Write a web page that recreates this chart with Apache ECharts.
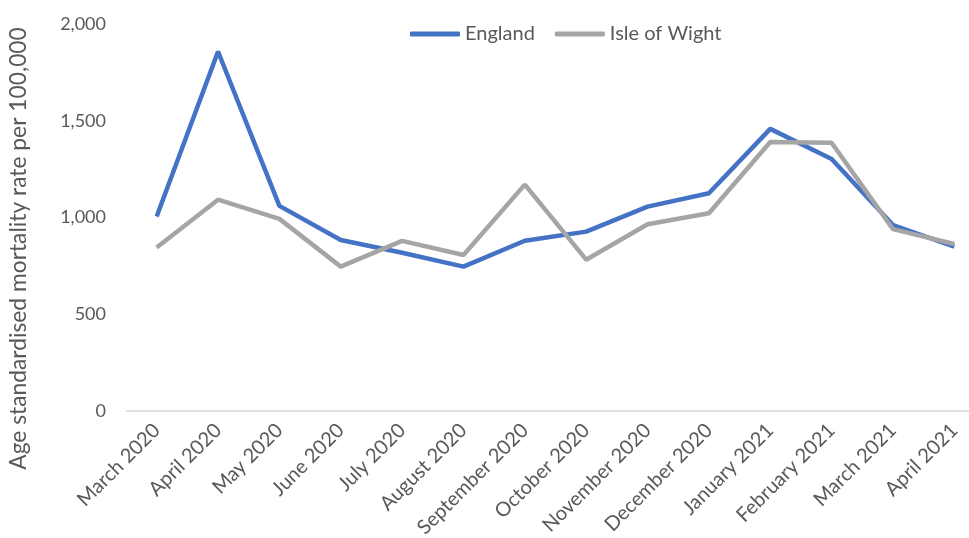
<!DOCTYPE html>
<html><head><meta charset="utf-8">
<script src="https://cdn.jsdelivr.net/npm/echarts@6/dist/echarts.min.js"></script>
<style>html,body{margin:0;padding:0;background:#fff;overflow:hidden;width:969px;height:538px}#c{width:985px;height:538px}</style>
</head><body><div id="c"></div>
<script>
const categories = ["March 2020","April 2020","May 2020","June 2020","July 2020","August 2020","September 2020","October 2020","November 2020","December 2020","January 2021","February 2021","March 2021","April 2021"];
const england = [1005,1858,1060,884,818,746,880,927,1056,1125,1458,1302,961,849];
const isleOfWight = [845,1092,993,746,879,806,1170,782,965,1022,1390,1386,940,863];
const yTicks = [0,500,1000,1500,2000];

const chart = echarts.init(document.getElementById('c'));
const font = 'Lato, "Open Sans", sans-serif';
chart.setOption({
  animation:false,
  textStyle:{fontFamily:font},
  legend:{top:19,left:405,itemWidth:50,itemHeight:5,itemGap:20,icon:'roundRect',
    textStyle:{fontSize:20,color:'#595959',fontFamily:font},
    data:['England','Isle of Wight']},
  grid:{left:126,top:24,right:0,height:387,outerBoundsMode:'none',containLabel:false},
  xAxis:{type:'category',data:categories,boundaryGap:true,
    axisLine:{lineStyle:{color:'#D9D9D9',width:1.5}},axisTick:{show:false},
    axisLabel:{rotate:45,color:'#595959',fontSize:20,margin:16,interval:0,fontFamily:font}},
  yAxis:{type:'value',min:yTicks[0],max:yTicks[yTicks.length-1],interval:500,
    name:'Age standardised mortality rate per 100,000',nameLocation:'middle',nameGap:96,
    nameTextStyle:{fontSize:22.8,color:'#595959',fontFamily:font,padding:[0,62,0,0]},
    splitLine:{show:false},axisLine:{show:false},axisTick:{show:false},
    axisLabel:{color:'#595959',fontSize:18,margin:20,fontFamily:font,
      formatter:v=>v.toLocaleString('en-GB')}},
  series:[
    {name:'England',type:'line',data:england,symbol:'none',lineStyle:{color:'#4472C4',width:4.5},itemStyle:{color:'#4472C4'},z:2},
    {name:'Isle of Wight',type:'line',data:isleOfWight,symbol:'none',lineStyle:{color:'#A5A5A5',width:4.5},itemStyle:{color:'#A5A5A5'},z:3}
  ]
});
</script></body></html>
